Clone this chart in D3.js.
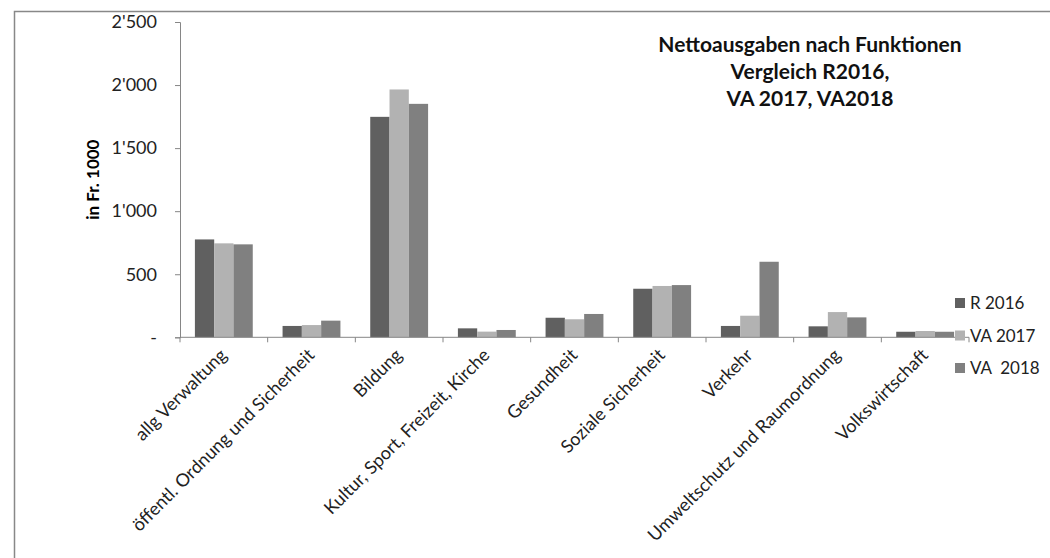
<!DOCTYPE html>
<html><head><meta charset="utf-8">
<script src="https://cdn.jsdelivr.net/npm/d3@7"></script>
<style>body{margin:0;background:#fff}svg{display:block}text{white-space:pre}</style>
</head><body>
<svg id="c" width="1050" height="558"></svg>
<script>
const categories = ["allg Verwaltung","öffentl. Ordnung und Sicherheit","Bildung","Kultur, Sport, Freizeit, Kirche","Gesundheit","Soziale Sicherheit","Verkehr","Umweltschutz und Raumordnung","Volkswirtschaft"];
const seriesNames = ["R 2016","VA 2017","VA  2018"];
const r2016 = [776, 90, 1748, 71, 155, 385, 90, 87, 44];
const va2017 = [745, 97, 1965, 45, 143, 407, 171, 200, 50];
const va2018 = [737, 132, 1851, 58, 185, 414, 599, 158, 44];
const colors = ["#606060","#b2b2b2","#808080"];
const yTicks = [0, 500, 1000, 1500, 2000, 2500];
const yTickLabels = ["-", "500", "1'000", "1'500", "2'000", "2'500"];
const titleLines = ["Nettoausgaben nach Funktionen","Vergleich R2016,","VA 2017, VA2018"];
const yTitle = "in Fr. 1000";

const series = [r2016, va2017, va2018];
const svg = d3.select("#c");
const font = "Lato, 'Open Sans', sans-serif";

// outer frame
svg.append("path").attr("d","M14.5,558 V11.5 H1050").attr("fill","none").attr("stroke","#888").attr("stroke-width",1.5);

const x0 = 180, x1 = 969, yTop = 22, yBot = 337.3;
const x = d3.scaleBand().domain(categories).range([x0, x1]).paddingInner(0.34).paddingOuter(0.17);
const xs = d3.scaleBand().domain([0,1,2]).range([0, x.bandwidth()]);
const y = d3.scaleLinear().domain([0, 2500]).range([yBot, yTop]);
const xb = d3.scaleBand().domain(categories).range([x0, x1]);

// bars
series.forEach((s, si) => {
  svg.append("g").selectAll("rect").data(s).join("rect")
    .attr("x", (d,i) => x(categories[i]) + xs(si))
    .attr("y", d => y(d))
    .attr("width", xs.bandwidth())
    .attr("height", d => y(0) - y(d))
    .attr("fill", colors[si]);
});

// y axis
const yAxis = d3.axisLeft(y).tickValues(yTicks).tickSize(5).tickFormat((d,i)=>yTickLabels[i]);
const gy = svg.append("g").attr("transform",`translate(${x0},0)`).call(yAxis);
gy.select(".domain").attr("stroke","#868686");
gy.selectAll(".tick line").attr("stroke","#868686");
gy.selectAll(".tick text").attr("x",-23).attr("font-family",font).attr("font-size",18).attr("fill","#222");

// x axis
const gx = svg.append("g").attr("transform",`translate(0,${yBot})`);
gx.append("line").attr("x1",x0).attr("x2",x1).attr("stroke","#868686");
gx.selectAll("line.t").data(d3.range(categories.length+1)).join("line").attr("class","t")
  .attr("x1", i => x0 + i*xb.step()).attr("x2", i => x0 + i*xb.step())
  .attr("y1",0).attr("y2",5).attr("stroke","#868686");
gx.selectAll("text").data(categories).join("text")
  .attr("transform", d => `translate(${xb(d)+xb.bandwidth()/2+4},19) rotate(-45)`)
  .attr("text-anchor","end").attr("font-family",font).attr("font-size",18).attr("fill","#222")
  .text(d=>d);

// y title
svg.append("text").attr("transform",`translate(99,${(yTop+yBot)/2}) rotate(-90)`)
  .attr("text-anchor","middle").attr("font-family",font).attr("font-weight","bold").attr("font-size",17).text(yTitle);

// title
svg.append("g").selectAll("text").data(titleLines).join("text")
  .attr("x",810).attr("y",(d,i)=>52+i*27).attr("text-anchor","middle")
  .attr("font-family",font).attr("font-weight","bold").attr("font-size",21).attr("fill","#111").text(d=>d);

// legend
const lg = svg.append("g").selectAll("g").data(seriesNames).join("g")
  .attr("transform",(d,i)=>`translate(955,${303 + i*32.5})`);
lg.append("rect").attr("x",0).attr("y",-5).attr("width",10).attr("height",10).attr("fill",(d,i)=>colors[i]);
lg.append("text").attr("x",15).attr("y",6).attr("font-family",font).attr("font-size",17).attr("fill","#222").text(d=>d);
</script>
</body></html>
